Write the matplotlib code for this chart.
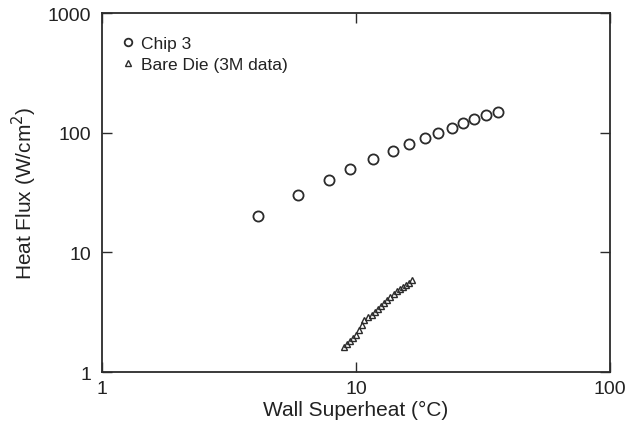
import matplotlib
matplotlib.use('Agg')
import matplotlib.pyplot as plt

plt.rcParams['font.family'] = ['Liberation Sans', 'DejaVu Sans']

# Chip 3 data
chip_dT = [4.1, 5.9, 7.8, 9.45, 11.7, 14.0, 16.1, 18.7, 21.0, 23.8, 26.4, 29.1, 32.5, 36.1]
chip_q = [20, 30, 40, 50, 60, 70, 80, 90, 100, 110, 120, 130, 140, 150]

# Bare die (3M data)
die_dT = [9.0, 9.22, 9.47, 9.73, 10.0, 10.27, 10.56, 10.75, 11.15, 11.56, 11.88, 12.21,
          12.54, 12.89, 13.24, 13.61, 14.11, 14.5, 14.9, 15.31, 15.74, 16.17, 16.61]
die_q = [1.62, 1.71, 1.82, 1.92, 2.04, 2.24, 2.47, 2.72, 2.88, 2.99, 3.17, 3.36,
         3.56, 3.77, 4.0, 4.23, 4.48, 4.75, 4.94, 5.13, 5.33, 5.54, 5.87]

xticks = [1, 10, 100]
xticklabels = ['1', '10', '100']
yticks = [1, 10, 100, 1000]
yticklabels = ['1', '10', '100', '1000']

ink = '#2b2b2b'

fig = plt.figure(figsize=(6.28, 4.35), dpi=100)
ax = fig.add_axes([0.1624, 0.1425, 0.8089, 0.8253])

ax.plot(chip_dT, chip_q, linestyle='none', marker='o', markersize=7.3,
        markerfacecolor='none', markeredgecolor=ink, markeredgewidth=1.3, label='Chip 3')
ax.plot(die_dT, die_q, linestyle='none', marker='^', markersize=5,
        markerfacecolor='none', markeredgecolor=ink, markeredgewidth=1.0, label='Bare Die (3M data)')

ax.set_xscale('log')
ax.set_yscale('log')
ax.set_xlim(1, 100)
ax.set_ylim(1, 1000)
ax.set_xticks(xticks)
ax.set_xticklabels(xticklabels)
ax.set_yticks(yticks)
ax.set_yticklabels(yticklabels)
ax.minorticks_off()

ax.tick_params(which='major', direction='in', top=True, right=True, length=7, width=1.0,
               color=ink, labelsize=14, labelcolor='#222222')
ax.tick_params(axis='y', pad=8)
ax.tick_params(axis='x', pad=6)
for s in ax.spines.values():
    s.set_linewidth(1.3)
    s.set_color(ink)

ax.set_xlabel('Wall Superheat (\u00b0C)', fontsize=15, color='#222222', labelpad=2)
ax.set_ylabel('Heat Flux (W/cm$^2$)', fontsize=15, color='#222222', labelpad=6)

leg = ax.legend(loc='upper left', frameon=False, fontsize=12.5, handletextpad=0.25,
                handlelength=1.0, borderaxespad=0.0, labelspacing=0.35, markerscale=0.75,
                bbox_to_anchor=(0.02, 0.955))
for t in leg.get_texts():
    t.set_color('#222222')

fig.savefig('out.png', dpi=100)
